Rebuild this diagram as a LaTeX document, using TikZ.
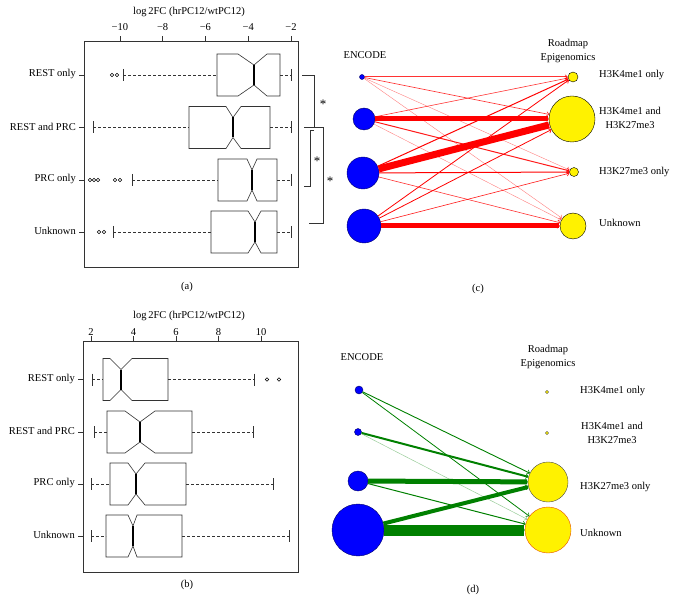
\documentclass[tikz,border=0pt]{standalone}
\usepackage{fontspec}
\setmainfont{Liberation Serif}
\usetikzlibrary{arrows.meta}

% notched box: y, low cap, q1, notch lo, median, notch hi, q3, high cap
\newcommand{\nbox}[8]{%
	\draw[boxline] (#3,#1-21) -- (#4,#1-21) -- (#5,#1-10) -- (#6,#1-21) -- (#7,#1-21) -- (#7,#1+21)
		-- (#6,#1+21) -- (#5,#1+10) -- (#4,#1+21) -- (#3,#1+21) -- cycle;
	\draw[line width=1.3pt] (#5,#1-10) -- (#5,#1+10);
	\draw[boxline,dash pattern=on 3pt off 2pt] (#2,#1) -- (#3,#1) (#7,#1) -- (#8,#1);
	\draw[boxline] (#2,#1-6) -- (#2,#1+6) (#8,#1-6) -- (#8,#1+6);
}

\begin{document}
\begin{tikzpicture}[x=1pt,y=-1pt,font=\fontsize{10.5}{14}\selectfont]
		\useasboundingbox (0,0) rectangle (678,604);
		\tikzstyle{boxline}=[line width=0.6pt,black!80]
		\tikzstyle{outl}=[line width=0.5pt]
		\tikzstyle{enc}=[circle,draw=blue!40!black,fill=blue,inner sep=0pt]
		\tikzstyle{rm}=[circle,draw=black,fill=yellow,inner sep=0pt]
		\tikzstyle{lab}=[anchor=west,inner sep=0pt]
		\tikzstyle{arr}=[-{To[length=3pt,width=5pt,line width=0.6pt]}]
		
		% (a)
		\draw[boxline] (84,41) rectangle (298,267);
		\node (a-title) at (189,12) {log\,2FC (hrPC12/wtPC12)};
		\foreach \v/\t in {-10/−10,-8/−8,-6/−6,-4/−4,-2/−2}{
			\draw[boxline] (291+\v*21.4+2*21.4,41) -- (291+\v*21.4+2*21.4,36);
			\node (a-t\t) at (291+\v*21.4+2*21.4,27) {\t};
		}
		\foreach \y/\t [count=\i] in {75/REST only,127.5/REST and PRC,180/PRC only,232/Unknown}{
			\draw[boxline] (79,\y) -- (84,\y);
			\node[anchor=east,inner sep=0pt] (a-row\i) at (76,\y-1) {\t};
		}
		\nbox{75}{123}{217}{238}{254}{267}{280}{291}
		\nbox{127.5}{93}{189}{226}{233}{241}{270}{291}
		\nbox{180}{132}{218}{247}{252}{257}{277}{291}
		\nbox{232}{113}{211}{248}{255}{261}{277}{291}
		\foreach \x/\y in {112/75,117/75,90/180,94/180,98/180,115/180,120/180,99/232,104/232}
		\draw[outl] (\x,\y) circle (1.7pt);
		
		\draw[boxline] (302,75) -- (314,75) -- (314,127.5) -- (304,127.5);
		\draw[boxline] (314,127.5) -- (323,127.5) -- (323,223) -- (309,223);
		\draw[boxline] (314,130) -- (310,130) -- (310,186) -- (304,186);
		\node[font=\fontsize{13}{14}\selectfont] (a-s1) at (323,104) {*};
		\node[font=\fontsize{13}{14}\selectfont] (a-s2) at (317,161) {*};
		\node[font=\fontsize{13}{14}\selectfont] (a-s3) at (330,181) {*};
		\node (a-cap) at (187,287) {(a)};
		
		% (b)
		\draw[boxline] (83,341) rectangle (298,572);
		\node (b-title) at (189,316) {log\,2FC (hrPC12/wtPC12)};
		\foreach \v in {2,4,...,10}{
			\draw[boxline] (91+\v*21.25-2*21.25,341) -- (91+\v*21.25-2*21.25,336);
			\node (b-t\v) at (91+\v*21.25-2*21.25,332) {\v};
		}
		\foreach \y/\t [count=\i] in {379.5/REST only,432/REST and PRC,484/PRC only,536/Unknown}{
			\draw[boxline] (78,\y) -- (83,\y);
			\node[anchor=east,inner sep=0pt] (b-row\i) at (75,\y-1) {\t};
		}
		\nbox{379.5}{92}{103}{110}{121}{132}{168}{254}
		\nbox{432}{94}{107}{125}{140}{155}{192}{253}
		\nbox{484}{91}{110}{128}{136}{145}{186}{273}
		\nbox{536}{91}{106}{128}{133}{137}{182}{289}
		\foreach \x in {267,279}
		\draw[outl] (\x,379.5) circle (1.7pt);
		\node (b-cap) at (187,585) {(b)};
		
		% (c)
		\node (c-enc) at (365,55) {ENCODE};
		\node[align=center] (c-rm) at (568,50.5) {Roadmap\\Epigenomics};
		\foreach \i/\x/\y/\r in {1/362/77/2.5,2/364/119/11,3/363/173/16,4/364/226/17}
		\node[enc,minimum size=2*\r pt] (c-l\i) at (\x,\y) {};
		\foreach \i/\x/\y/\r in {1/573/77/5,2/572/119/23,3/574/172/4.5,4/573/226/13}
		\node[rm,minimum size=2*\r pt] (c-r\i) at (\x,\y) {};
		\foreach \s/\d/\w/\o in {1/2/0.6/0.8,1/3/0.4/0.5,1/4/0.4/0.5,1/1/1/0.8,
			2/1/0.6/0.8,2/2/5/1,2/3/1/0.9,2/4/0.4/0.5,
			3/1/1/1,3/2/7/1,3/3/1/1,3/4/0.6/0.8,
			4/1/0.8/1,4/2/0.8/1,4/3/0.6/0.9,4/4/5/1}
		\draw[arr,draw=red,line width=\w pt,draw opacity=\o] (c-l\s) -- (c-r\d);
		\node[lab] (c-n1) at (599,75) {H3K4me1 only};
		\node[align=center] (c-n2) at (630,118) {H3K4me1 and\\H3K27me3};
		\node[lab] (c-n3) at (599,172) {H3K27me3 only};
		\node[lab] (c-n4) at (599,223) {Unknown};
		\node (c-cap) at (478,289) {(c)};
		
		% (d)
		\node (d-enc) at (362,357) {ENCODE};
		\node[align=center] (d-rm) at (548,357) {Roadmap\\Epigenomics};
		\foreach \i/\x/\y/\r in {1/359/390/4,2/358/432/3.5,3/358/481/10,4/358/530/26}
		\node[enc,minimum size=2*\r pt] (d-l\i) at (\x,\y) {};
		\foreach \i/\x/\y/\r in {1/547/392/1.6,2/547/433/1.6,3/548/482/20}
		\node[rm,draw=black!70,minimum size=2*\r pt] (d-r\i) at (\x,\y) {};
		\node[rm,draw={rgb,255:red,230;green,80;blue,0},minimum size=46pt] (d-r4) at (548,530) {};
		\foreach \s/\d/\w/\o in {1/4/0.8/1,1/3/0.9/1,2/3/2/1,2/4/0.5/0.4,
			3/3/5/1,3/4/1/1,4/3/4/1,4/4/11/1}
		\draw[arr,draw=green!50!black,line width=\w pt,draw opacity=\o] (d-l\s) -- (d-r\d);
		\node[lab] (d-n1) at (580,391) {H3K4me1 only};
		\node[align=center] (d-n2) at (612,433) {H3K4me1 and\\H3K27me3};
		\node[lab] (d-n3) at (580,487) {H3K27me3 only};
		\node[lab] (d-n4) at (580,533) {Unknown};
		\node (d-cap) at (473,590) {(d)};
		\end{tikzpicture}
\end{document}
